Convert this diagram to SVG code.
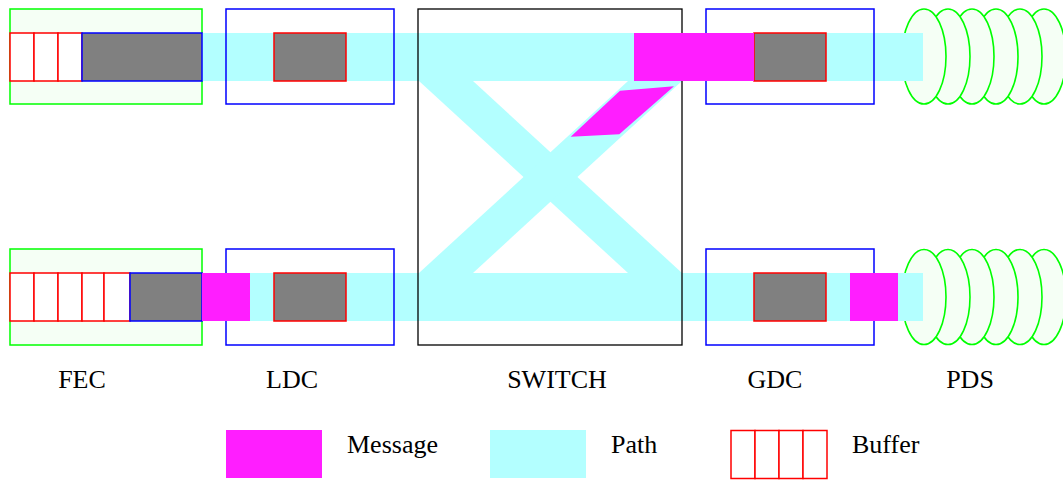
<svg xmlns="http://www.w3.org/2000/svg" width="1063" height="482" viewBox="0 0 1063 482">
  <style>
    .path { fill: #b3ffff; stroke: none; }
    .msg { fill: #ff1eff; stroke: none; }
    .cell { fill: #ffffff; stroke: #ff0000; stroke-width: 1.5; }
    .data { fill: #808080; }
    .data-b { stroke: #0000ff; stroke-width: 1.5; }
    .data-r { stroke: #ff0000; stroke-width: 1.5; }
    .fec { fill: #f5fff5; stroke: #00ff00; stroke-width: 1.5; }
    .dc { fill: none; stroke: #0000ff; stroke-width: 1.5; }
    .sw { fill: none; stroke: #000000; stroke-width: 1.3; }
    .pds { fill: #f5fff5; stroke: #00ff00; stroke-width: 1.6; }
    text { font-family: "Liberation Serif", "Times New Roman", Times, "DejaVu Serif", serif; font-size: 26px; fill: #000000; }
  </style>

  <!-- PDS ring stacks, back to front (drawn first so the path band sits on top) -->
  <g id="pds-top">
    <ellipse class="pds" cx="1044" cy="56.5" rx="22" ry="47.5"/>
    <ellipse class="pds" cx="1020" cy="56.5" rx="22" ry="47.5"/>
    <ellipse class="pds" cx="996" cy="56.5" rx="22" ry="47.5"/>
    <ellipse class="pds" cx="972" cy="56.5" rx="22" ry="47.5"/>
    <ellipse class="pds" cx="948" cy="56.5" rx="22" ry="47.5"/>
    <ellipse class="pds" cx="924" cy="56.5" rx="22" ry="47.5"/>
  </g>
  <g id="pds-bottom">
    <ellipse class="pds" cx="1044" cy="297" rx="22" ry="47.5"/>
    <ellipse class="pds" cx="1020" cy="297" rx="22" ry="47.5"/>
    <ellipse class="pds" cx="996" cy="297" rx="22" ry="47.5"/>
    <ellipse class="pds" cx="972" cy="297" rx="22" ry="47.5"/>
    <ellipse class="pds" cx="948" cy="297" rx="22" ry="47.5"/>
    <ellipse class="pds" cx="924" cy="297" rx="22" ry="47.5"/>
  </g>

  <!-- FEC containers -->
  <g id="fec-top">
    <rect class="fec" x="10" y="9" width="192" height="95"/>
  </g>
  <g id="fec-bottom">
    <rect class="fec" x="10" y="249" width="192" height="96"/>
  </g>

  <!-- paths through the system -->
  <g id="connectors">
    <rect class="path" x="202" y="33" width="721" height="48"/>
    <rect class="path" x="202" y="273" width="721" height="48"/>
    <polygon class="path" points="419,81 473,81 682,273 628,273"/>
    <polygon class="path" points="628,81 682,81 473,273 419,273"/>
  </g>

  <!-- switch -->
  <g id="switch">
    <rect class="sw" x="418" y="9" width="264" height="336"/>
  </g>

  <!-- LDC / GDC boxes -->
  <g id="ldc-top">
    <rect class="dc" x="226" y="9" width="168" height="95"/>
    <rect class="data data-r" x="274" y="33" width="72" height="48"/>
  </g>
  <g id="ldc-bottom">
    <rect class="dc" x="226" y="249" width="168" height="96"/>
    <rect class="data data-r" x="274" y="273" width="72" height="48"/>
  </g>
  <g id="gdc-top">
    <rect class="dc" x="706" y="9" width="168" height="95"/>
    <rect class="data data-r" x="754" y="33" width="72" height="48"/>
  </g>
  <g id="gdc-bottom">
    <rect class="dc" x="706" y="249" width="168" height="96"/>
    <rect class="data data-r" x="754" y="273" width="72" height="48"/>
  </g>

  <!-- FEC buffers -->
  <g id="fec-top-buffer">
    <rect class="cell" x="10" y="33" width="24" height="48"/>
    <rect class="cell" x="34" y="33" width="24" height="48"/>
    <rect class="cell" x="58" y="33" width="24" height="48"/>
    <rect class="data data-b" x="82" y="33" width="120" height="48"/>
  </g>
  <g id="fec-bottom-buffer">
    <rect class="cell" x="10" y="273" width="24" height="48"/>
    <rect class="cell" x="34" y="273" width="24" height="48"/>
    <rect class="cell" x="58" y="273" width="24" height="48"/>
    <rect class="cell" x="82" y="273" width="22" height="48"/>
    <rect class="cell" x="104" y="273" width="26" height="48"/>
    <rect class="data data-b" x="130" y="273" width="72" height="48"/>
  </g>

  <!-- messages in transit -->
  <g id="messages">
    <rect class="msg" x="634" y="33" width="120" height="48"/>
    <polygon class="msg" points="570.7,136.7 620,90.7 674,86.3 619.3,134.3"/>
    <rect class="msg" x="202" y="273" width="48" height="48"/>
    <rect class="msg" x="850" y="273" width="48" height="48"/>
  </g>

  <!-- stage labels -->
  <g id="labels">
    <text x="82" y="388" text-anchor="middle">FEC</text>
    <text x="292" y="388" text-anchor="middle">LDC</text>
    <text x="557" y="388" text-anchor="middle">SWITCH</text>
    <text x="775" y="388" text-anchor="middle">GDC</text>
    <text x="970" y="388" text-anchor="middle">PDS</text>
  </g>

  <!-- legend -->
  <g id="legend">
    <rect class="msg" x="226" y="430" width="96" height="48"/>
    <text x="347" y="453">Message</text>
    <rect class="path" x="490" y="430" width="96" height="48"/>
    <text x="611" y="453">Path</text>
    <rect class="cell" x="731" y="430.5" width="24" height="48"/>
    <rect class="cell" x="755" y="430.5" width="24" height="48"/>
    <rect class="cell" x="779" y="430.5" width="24" height="48"/>
    <rect class="cell" x="803" y="430.5" width="24" height="48"/>
    <text x="852" y="453">Buffer</text>
  </g>
</svg>
